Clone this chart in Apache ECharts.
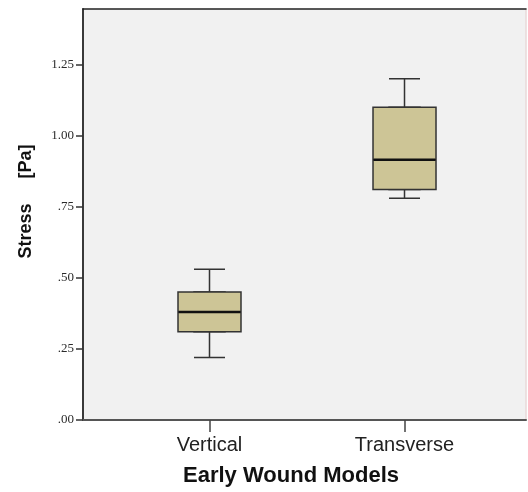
<!DOCTYPE html>
<html><head><meta charset="utf-8">
<script src="https://cdn.jsdelivr.net/npm/echarts@6/dist/echarts.min.js"></script>
<style>html,body{margin:0;padding:0;background:#fff}#c{width:528px;height:492px}</style>
</head><body><div id="c"></div>
<script>
const categories = ['Vertical', 'Transverse'];
const xPositions = [0, 1];
const lowerWhisker = [0.22, 0.78];
const q1 = [0.31, 0.81];
const median = [0.38, 0.915];
const q3 = [0.45, 1.10];
const upperWhisker = [0.53, 1.20];
const yTicks = [0, 0.25, 0.5, 0.75, 1.0, 1.25];
const yTickLabels = ['.00', '.25', '.50', '.75', '1.00', '1.25'];

const whiskerData = categories.map((c, i) => [xPositions[i], lowerWhisker[i], q1[i], median[i], q3[i], upperWhisker[i]]);
const boxData = categories.map((c, i) => [xPositions[i], q1[i], q1[i], median[i], q3[i], q3[i]]);
const medianData = categories.map((c, i) => [xPositions[i], median[i], median[i], median[i], median[i], median[i]]);

const X_MIN = -0.6487, X_MAX = 1.623;
const chart = echarts.init(document.getElementById('c'), null, {renderer: 'canvas'});
chart.setOption({
  animation: false,
  backgroundColor: '#ffffff',
  grid: {left: 83, right: 2, top: 9, bottom: 70, show: true, backgroundColor: '#f1f1f1', borderWidth: 0},
  xAxis: [
    {
      type: 'value', min: X_MIN, max: X_MAX, position: 'bottom',
      axisLine: {show: true, onZero: false, lineStyle: {color: '#555', width: 2}},
      axisTick: {show: true, customValues: xPositions, length: 12, lineStyle: {color: '#444', width: 1.5}},
      axisLabel: {
        customValues: xPositions, margin: 15,
        formatter: v => categories[Math.round(v)] || '',
        fontFamily: 'Liberation Sans', fontSize: 20, color: '#222'
      },
      splitLine: {show: false},
      name: 'Early Wound Models', nameLocation: 'middle', nameGap: 45,
      nameTextStyle: {fontFamily: 'Liberation Sans', fontWeight: 'bold', fontSize: 22, color: '#111', padding: [0, 27, 0, 0]}
    },
    {
      type: 'value', min: X_MIN, max: X_MAX, position: 'top',
      axisLine: {show: true, onZero: false, lineStyle: {color: '#222', width: 1.5}},
      axisTick: {show: false}, axisLabel: {show: false}, splitLine: {show: false}
    },
    {
      type: 'value', min: X_MIN, max: X_MAX, position: 'bottom', show: false,
      axisLine: {onZero: false},
      splitLine: {show: false}
    }
  ],
  yAxis: [
    {
      type: 'value', min: 0, max: 1.445, position: 'left',
      axisLine: {show: true, onZero: false, lineStyle: {color: '#3a3a3a', width: 2}},
      axisTick: {show: true, customValues: yTicks, length: 7, lineStyle: {color: '#333', width: 1.5}},
      axisLabel: {
        customValues: yTicks, margin: 9,
        formatter: v => { const i = yTicks.findIndex(t => Math.abs(t - v) < 1e-6); return i >= 0 ? yTickLabels[i] : ''; },
        fontFamily: 'Liberation Serif', fontSize: 13, color: '#2a2a2a'
      },
      splitLine: {show: false},
      name: 'Stress     [Pa]', nameLocation: 'middle', nameGap: 48, nameRotate: 90,
      nameTextStyle: {fontFamily: 'Liberation Sans', fontWeight: 'bold', fontSize: 18, color: '#111', padding: [0, 0, 0, 26]}
    },
    {
      type: 'value', min: 0, max: 1.445, position: 'right',
      axisLine: {show: true, onZero: false, lineStyle: {color: '#e8d9d9', width: 1.5}},
      axisTick: {show: false}, axisLabel: {show: false}, splitLine: {show: false}
    }
  ],
  series: [
    {
      type: 'boxplot', xAxisIndex: 0, yAxisIndex: 0, data: whiskerData,
      boxWidth: [31, 31],
      itemStyle: {color: '#cdc596', borderColor: '#333', borderWidth: 1.5},
      emphasis: {disabled: true}, silent: true
    },
    {
      type: 'boxplot', xAxisIndex: 1, yAxisIndex: 0, data: boxData,
      boxWidth: [63, 63],
      itemStyle: {color: '#cdc596', borderColor: '#333', borderWidth: 1.5},
      emphasis: {disabled: true}, silent: true
    },
    {
      type: 'boxplot', xAxisIndex: 2, yAxisIndex: 0, data: medianData,
      boxWidth: [62, 62],
      itemStyle: {color: 'rgba(0,0,0,0)', borderColor: '#111', borderWidth: 2.5},
      emphasis: {disabled: true}, silent: true
    }
  ]
});
</script></body></html>
